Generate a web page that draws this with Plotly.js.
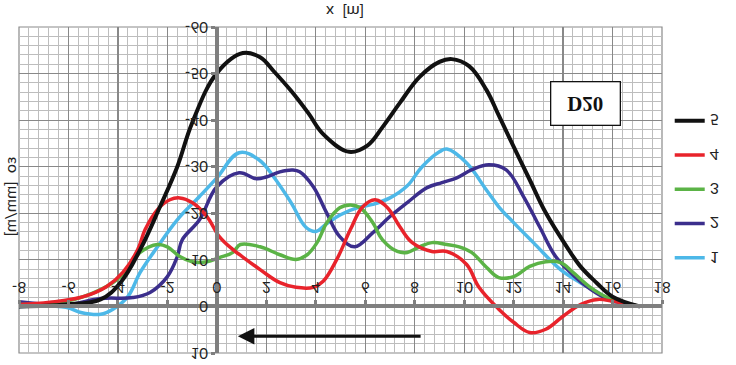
<!DOCTYPE html>
<html>
<head>
<meta charset="utf-8">
<script src="https://cdn.plot.ly/plotly-3.0.1.min.js"></script>
<style>
  html, body { margin: 0; padding: 0; background: #ffffff; }
  #chart { width: 736px; height: 365px; transform: scaleY(-1); transform-origin: 50% 50%; }
</style>
</head>
<body>
<div id="chart"></div>
<script>
// Series names (legend labels)
const seriesNames = ['1', '2', '3', '4', '5'];
const seriesColors = ['#4db8e8', '#3b2e8c', '#5bb346', '#e8232b', '#111111'];

// Series 1 (light blue)
const x1 = [-8, -6.1, -5.5, -4.7, -4.2, -3.6, -3.1, -2.4, -1.6, -0.7, 0, 0.9, 1.7, 2.3, 3.0, 3.6, 4.0, 4.4, 5.0, 5.7, 6.3, 7.0, 7.7, 8.3, 9.0, 9.3, 10.1, 10.9, 11.4, 12.0, 12.8, 13.9, 14.7, 15.4, 16.0, 17.1];
const y1 = [0, 0.2, 1.3, 1.7, 0.6, -2.1, -7.3, -12.8, -18.6, -23.6, -27.6, -33, -31.5, -27.8, -22.3, -17, -16.1, -17.6, -19.7, -21.2, -21.9, -23.3, -25.9, -30, -33.2, -33.8, -30.8, -25, -21.4, -18, -13.7, -7.9, -5.1, -3, -1.1, 0];

// Series 2 (dark purple)
const x2 = [-8, -6.1, -4.7, -3.4, -2.7, -2.0, -1.6, -1.4, -0.7, 0, 0.9, 1.6, 2.0, 2.55, 3.07, 3.35, 3.9, 4.44, 4.97, 5.57, 6.3, 7.0, 7.7, 8.5, 9.1, 9.7, 10.3, 11.0, 11.7, 12.4, 13.05, 13.7, 14.3, 14.95, 15.6, 16.3, 17.1];
const y2 = [-1, -0.4, -1.7, -1.9, -3, -6.4, -10.7, -14.3, -18.6, -25.7, -28.7, -27.4, -27.8, -28.9, -29.3, -28.9, -25.7, -20.1, -15, -12.8, -15.8, -19.3, -22.3, -25.5, -26.6, -27.6, -29.3, -30.4, -29.3, -23.6, -17.1, -10.7, -7.3, -4.3, -2.1, -0.9, 0];

// Series 3 (green)
const x3 = [-8, -6.1, -4.7, -3.9, -3.1, -2.4, -2.0, -1.5, -1.0, -0.4, 0.1, 0.65, 0.95, 1.75, 2.55, 3.2, 3.65, 4.05, 4.45, 4.97, 5.4, 5.8, 6.3, 6.7, 7.3, 7.7, 8.2, 8.7, 9.3, 9.8, 10.3, 10.9, 11.4, 12.0, 12.65, 13.3, 13.9, 14.4, 15.1, 15.8, 16.4, 17.1];
const y3 = [-0.4, -1.1, -3.6, -6.4, -11.6, -13.3, -12.8, -10.7, -9.6, -9.6, -10.5, -11.6, -13.3, -12.8, -11.1, -10.1, -11.1, -13.7, -18, -21.2, -21.8, -21.2, -18, -14.3, -11.8, -11.6, -12.8, -13.7, -13.3, -12.8, -11.6, -8.4, -6.2, -6.4, -8.6, -9.6, -9.4, -7.3, -4.1, -1.9, -0.9, 0];

// Series 4 (red)
const x4 = [-8, -6.75, -5.4, -4.45, -3.8, -3.2, -2.9, -2.4, -1.9, -1.5, -1.0, -0.4, 0.1, 0.65, 0.95, 1.75, 2.55, 3.2, 3.9, 4.3, 4.85, 5.4, 5.9, 6.4, 6.9, 7.4, 7.9, 8.7, 9.3, 10.1, 10.6, 11.4, 12.0, 12.65, 13.3, 14.0, 14.7, 15.4, 16.0, 17.1];
const y4 = [-0.4, -0.9, -2.1, -4.3, -7.3, -12.2, -16.5, -20.8, -22.9, -23.3, -22.3, -19.3, -15, -12.2, -11, -7.9, -5.1, -4.1, -4.1, -5.4, -10.1, -16.5, -21.4, -22.9, -21.2, -17.1, -13.7, -11.8, -11.8, -9, -4.1, 0.6, 3.4, 5.6, 4.9, 2.1, -0.4, -1.5, -1.1, 0];

// Series 5 (black)
const x5 = [-8, -6.1, -4.7, -3.9, -3.1, -2.3, -1.6, -1.0, 0, 1.05, 1.75, 2.3, 3.0, 3.7, 4.3, 5.35, 6.1, 6.7, 7.4, 8.2, 9.0, 9.5, 10.2, 10.9, 11.4, 12.0, 12.65, 13.3, 14.15, 14.7, 15.35, 16.0, 17.1];
const y5 = [0, -0.4, -1.5, -5.1, -12.2, -21.4, -30, -39.4, -50.1, -54.4, -53.5, -50.5, -46.3, -41.5, -37, -33.2, -34.6, -38.5, -43.7, -49.3, -52.5, -53.1, -51.6, -46.5, -41, -34.3, -27.2, -20.1, -12.8, -8.6, -5.1, -2.1, 0];

// Axis ticks and texts
const xTickVals = [-8, -6, -4, -2, 0, 2, 4, 6, 8, 10, 12, 14, 16, 18];
const yTickVals = [-60, -50, -40, -30, -20, -10, 0, 10];
const xTitle = 'x  [m]';
const yTitle = 'εo  [mm/m]';
const boxLabel = 'D20';
const arrowFrom = [8.3, 6.4];
const arrowTo = [0.85, 6.4];
const boxPos = [14.9, -43.5];

const xs = [x1, x2, x3, x4, x5];
const ys = [y1, y2, y3, y4, y5];

const traces = seriesNames.map((name, i) => ({
  type: 'scatter', mode: 'lines', name: name,
  x: xs[i], y: ys[i],
  legendgroup: 'g' + name,
  line: { color: seriesColors[i], width: i === 4 ? 4 : 3.5, shape: 'spline', smoothing: 1.1 }
}));

const fontFam = 'Lato, "Open Sans", sans-serif';
const xRange = [-8, 18];
const yRange = [-60, 10];

const layout = {
  width: 736, height: 365,
  margin: { l: 19, r: 73.5, t: 11.5, b: 27, pad: 0 },
  paper_bgcolor: '#ffffff', plot_bgcolor: '#ffffff',
  showlegend: true,
  legend: {
    x: 1.012, xanchor: 'left', y: 0.76, yanchor: 'top',
    traceorder: 'grouped', tracegroupgap: 10.5,
    font: { family: fontFam, size: 16, color: '#222' },
    bgcolor: 'rgba(0,0,0,0)'
  },
  xaxis: {
    range: xRange, tickvals: xTickVals, ticktext: xTickVals.map(String),
    anchor: 'free', position: (0 - yRange[0]) / (yRange[1] - yRange[0]), side: 'bottom',
    showgrid: true, gridcolor: '#888888', gridwidth: 1.2,
    minor: { dtick: 0.4, tick0: 0, showgrid: true, gridcolor: '#bdbdbd', gridwidth: 1, ticks: '' },
    zeroline: false, showline: true, linecolor: '#7f7f7f', linewidth: 4,
    ticks: 'outside', ticklen: 4, tickwidth: 3, tickcolor: '#7f7f7f',
    tickfont: { family: fontFam, size: 15, color: '#222' },
    fixedrange: true
  },
  yaxis: {
    range: yRange, tickvals: yTickVals, ticktext: yTickVals.map(String),
    anchor: 'free', position: (0 - xRange[0]) / (xRange[1] - xRange[0]), side: 'left',
    showgrid: true, gridcolor: '#888888', gridwidth: 1.2,
    minor: { dtick: 2, tick0: 0, showgrid: true, gridcolor: '#bdbdbd', gridwidth: 1, ticks: '' },
    zeroline: false, showline: true, linecolor: '#7f7f7f', linewidth: 4,
    ticks: 'outside', ticklen: 4, tickwidth: 3, tickcolor: '#7f7f7f',
    tickfont: { family: fontFam, size: 15, color: '#222' },
    fixedrange: true
  },
  shapes: [
    { type: 'rect', xref: 'paper', yref: 'paper', x0: 0, x1: 1, y0: 0, y1: 1,
      line: { color: '#8a8a8a', width: 1.2 }, layer: 'below' }
  ],
  annotations: [
    { text: xTitle, xref: 'paper', yref: 'paper', x: 0.507, y: -0.046,
      xanchor: 'center', yanchor: 'middle', showarrow: false,
      font: { family: fontFam, size: 16, color: '#222' } },
    { text: yTitle, xref: 'paper', yref: 'paper', x: -0.0145, y: 0.52,
      xanchor: 'center', yanchor: 'middle', showarrow: false, textangle: -90,
      font: { family: fontFam, size: 16, color: '#222' } },
    { text: '<b>' + boxLabel + '</b>', x: boxPos[0], y: boxPos[1], xref: 'x', yref: 'y',
      showarrow: false, width: 66, height: 40, align: 'center', valign: 'middle',
      bgcolor: '#ffffff', bordercolor: '#111111', borderwidth: 1.3,
      font: { family: '"Liberation Serif", "Times New Roman", serif', size: 21, color: '#111' } },
    { text: '', x: arrowTo[0], y: arrowTo[1], ax: arrowFrom[0], ay: arrowFrom[1],
      xref: 'x', yref: 'y', axref: 'x', ayref: 'y',
      showarrow: true, arrowhead: 2, arrowsize: 1.1, arrowwidth: 3, arrowcolor: '#111111' }
  ]
};

Plotly.newPlot('chart', traces, layout, { displayModeBar: false, staticPlot: true });
</script>
</body>
</html>
